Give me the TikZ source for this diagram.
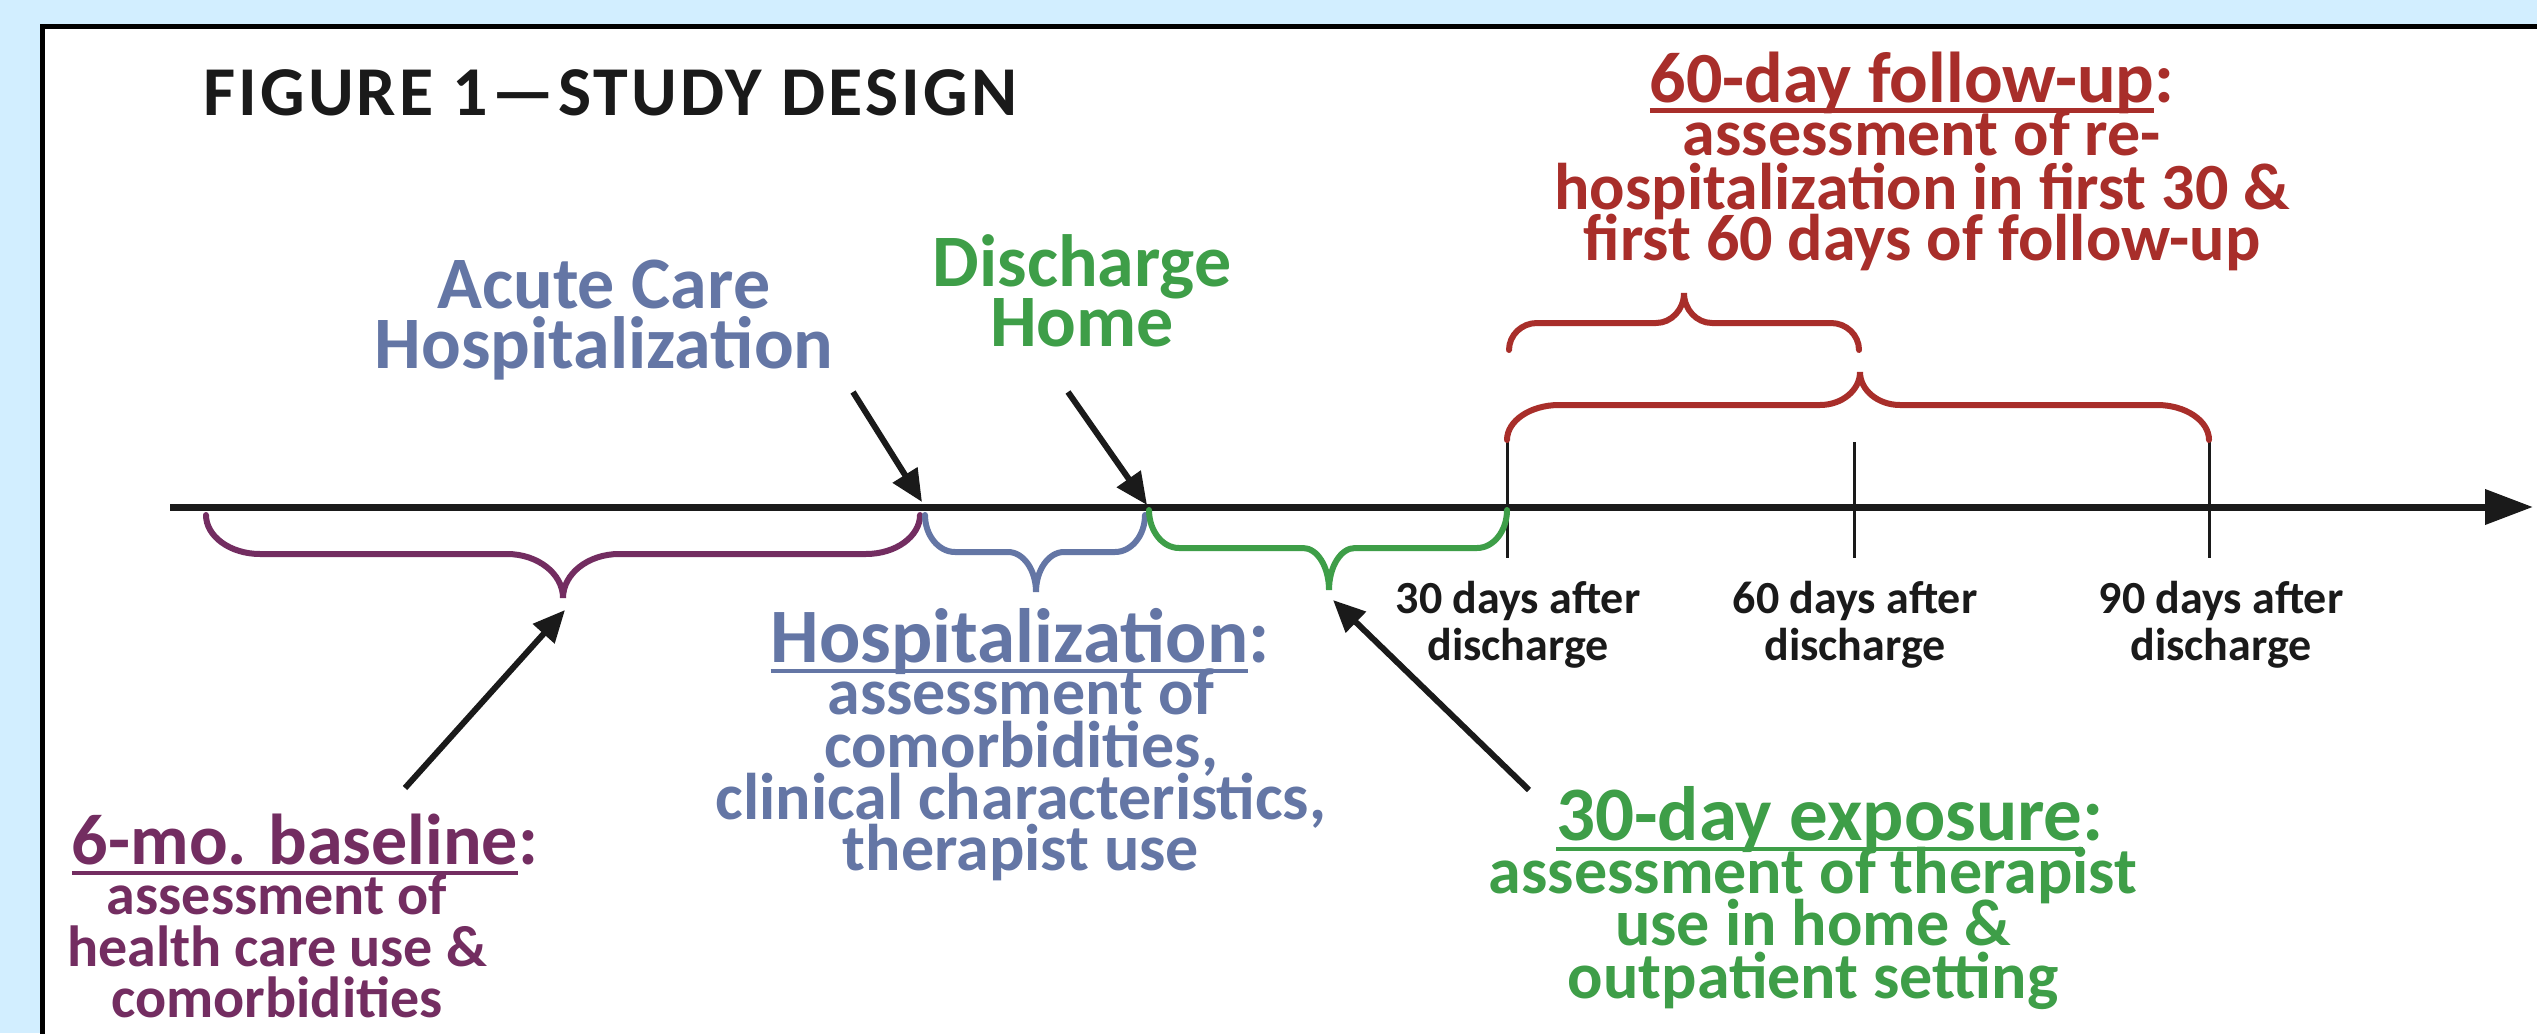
\documentclass[tikz,border=0pt]{standalone}
\usepackage{fontspec}
\setmainfont{Carlito}
\usetikzlibrary{arrows.meta}
\definecolor{bgblue}{HTML}{D2EEFF}
\definecolor{cpurple}{HTML}{732D61}
\definecolor{cblue}{HTML}{6476A5}
\definecolor{cgreen}{HTML}{3E9E48}
\definecolor{cred}{HTML}{A82E2A}
\definecolor{cblack}{HTML}{1A1A1A}
\newcommand{\myul}[1]{\setbox0=\hbox{#1}\rlap{\rule[-11pt]{\wd0}{4.5pt}}\box0}
% brace: xl xr xm y0 yh yt a b
\newcommand{\bracepath}[8]{(#1,#4) .. controls (#1,{#4+0.55*(#5-#4)}) and ({#1+0.45*#7},#5) .. ({#1+#7},#5) -- ({#3-#8},#5) .. controls ({#3-0.45*#8},#5) and (#3,{#5+0.45*(#6-#5)}) .. (#3,#6) .. controls (#3,{#5+0.45*(#6-#5)}) and ({#3+0.45*#8},#5) .. ({#3+#8},#5) -- ({#2-#7},#5) .. controls ({#2-0.45*#7},#5) and (#2,{#4+0.55*(#5-#4)}) .. (#2,#4)}
\tikzset{
  lbl/.style={anchor=base, inner sep=0pt, outer sep=0pt},
  titlef/.style={font={\bfseries\fontsize{70pt}{70pt}\selectfont\addfontfeature{LetterSpace=4.6}}},
  bigf/.style={font={\bfseries\fontsize{74pt}{74pt}\selectfont}},
  headf/.style={font={\bfseries\fontsize{72pt}{72pt}\selectfont}},
  bigheadf/.style={font={\bfseries\fontsize{77pt}{77pt}\selectfont}},
  bodyf/.style={font={\bfseries\fontsize{66pt}{66pt}\selectfont}},
  smallbodyf/.style={font={\bfseries\fontsize{58pt}{58pt}\selectfont}},
  dayf/.style={font={\bfseries\fontsize{46pt}{46pt}\selectfont}},
  bracestyle/.style={line width=6pt, line cap=round},
  pointer/.style={line width=6pt, draw=cblack, -{Triangle[length=32pt,width=28pt]}},
  tickstyle/.style={line width=3pt, draw=cblack},
}
\begin{document}
\begin{tikzpicture}[x=1pt,y=-1pt]
\useasboundingbox (0,0) rectangle (2537,1033);
\begin{scope}
\clip (0,0) rectangle (2537,1033);
\fill[bgblue] (0,0) rectangle (2537,1033);
\draw[line width=5pt, draw=black, fill=white] (42.5,26.5) rectangle (2620,1120);
\end{scope}

% title
\node[lbl, anchor=base west, titlef, text=cblack] (title) at (203,115) {FIGURE 1—STUDY DESIGN};

% timeline
\coordinate (tlS) at (170,507);
\coordinate (tlE) at (2533,507);
\draw[line width=7pt, draw=cblack, -{Triangle[length=48pt,width=34pt]}] (tlS) -- (tlE);

% ticks
\draw[tickstyle] (1507,442) -- (1507,558);
\draw[tickstyle] (1854,442) -- (1854,558);
\draw[tickstyle] (2209,442) -- (2209,558);

% braces
\draw[bracestyle, draw=cpurple] \bracepath{206}{920}{563}{515}{554}{598}{54}{56};
\draw[bracestyle, draw=cblue] \bracepath{925}{1145}{1036}{515}{552}{592}{30}{28};
\draw[bracestyle, draw=cgreen] \bracepath{1149}{1507}{1329}{510}{548}{590}{30}{26};
\draw[bracestyle, draw=cred] \bracepath{1507}{2209}{1860}{440}{405}{372}{52}{40};
\draw[bracestyle, draw=cred] \bracepath{1509}{1859}{1684}{350}{323}{293}{28}{28};

% upper labels
\node[lbl, bigf, text=cblue] (acute1) at (604,308) {Acute Care};
\node[lbl, bigf, text=cblue] (acute2) at (604,368) {Hospitalization};
\node[lbl, bigf, text=cgreen] (dis1) at (1082,286) {Discharge};
\node[lbl, bigf, text=cgreen] (dis2) at (1082,346) {Home};

% follow-up
\node[lbl, headf, text=cred] (fu0) at (1912,102) {\myul{60-day follow-up}:};
\node[lbl, bodyf, text=cred] (fu1) at (1922,155) {assessment of re-};
\node[lbl, bodyf, text=cred] (fu2) at (1922,209) {hospitalization in first 30 \&};
\node[lbl, bodyf, text=cred] (fu3) at (1922,260) {first 60 days of follow-up};

% exposure
\node[lbl, bigheadf, text=cgreen] (ex0) at (1830,840) {\myul{30-day exposure}:};
\node[lbl, bodyf, text=cgreen] (ex1) at (1813,893) {assessment of therapist};
\node[lbl, bodyf, text=cgreen] (ex2) at (1813,945) {use in home \&};
\node[lbl, bodyf, text=cgreen] (ex3) at (1813,998) {outpatient setting};

% hospitalization
\node[lbl, bigheadf, text=cblue] (ho0) at (1020,662) {\myul{Hospitalization}:};
\node[lbl, bodyf, text=cblue] (ho1) at (1021,714) {assessment of};
\node[lbl, bodyf, text=cblue] (ho2) at (1021,767) {comorbidities,};
\node[lbl, bodyf, text=cblue] (ho3) at (1021,819) {clinical characteristics,};
\node[lbl, bodyf, text=cblue] (ho4) at (1021,870) {therapist use};

% baseline
\node[lbl, headf, text=cpurple] (ba0) at (305,864) {\myul{6-mo. baseline}:};
\node[lbl, smallbodyf, text=cpurple] (ba1) at (277,914) {assessment of};
\node[lbl, smallbodyf, text=cpurple] (ba2) at (277,966) {health care use \&};
\node[lbl, smallbodyf, text=cpurple] (ba3) at (277,1017) {comorbidities};

% day labels
\node[lbl, dayf, text=cblack] (d30a) at (1518,613) {30 days after};
\node[lbl, dayf, text=cblack] (d30b) at (1518,660) {discharge};
\node[lbl, dayf, text=cblack] (d60a) at (1855,613) {60 days after};
\node[lbl, dayf, text=cblack] (d60b) at (1855,660) {discharge};
\node[lbl, dayf, text=cblack] (d90a) at (2221,613) {90 days after};
\node[lbl, dayf, text=cblack] (d90b) at (2221,660) {discharge};

% pointer arrows
\coordinate (pA1) at (853,392);
\coordinate (pA2) at (922,502);
\coordinate (pD1) at (1068,392);
\coordinate (pD2) at (1147,505);
\coordinate (pB1) at (405,788);
\coordinate (pB2) at (565,610);
\coordinate (pE1) at (1529,790);
\coordinate (pE2) at (1333,600);
\draw[pointer] (pA1) -- (pA2);
\draw[pointer] (pD1) -- (pD2);
\draw[pointer] (pB1) -- (pB2);
\draw[pointer] (pE1) -- (pE2);
\end{tikzpicture}
\end{document}
